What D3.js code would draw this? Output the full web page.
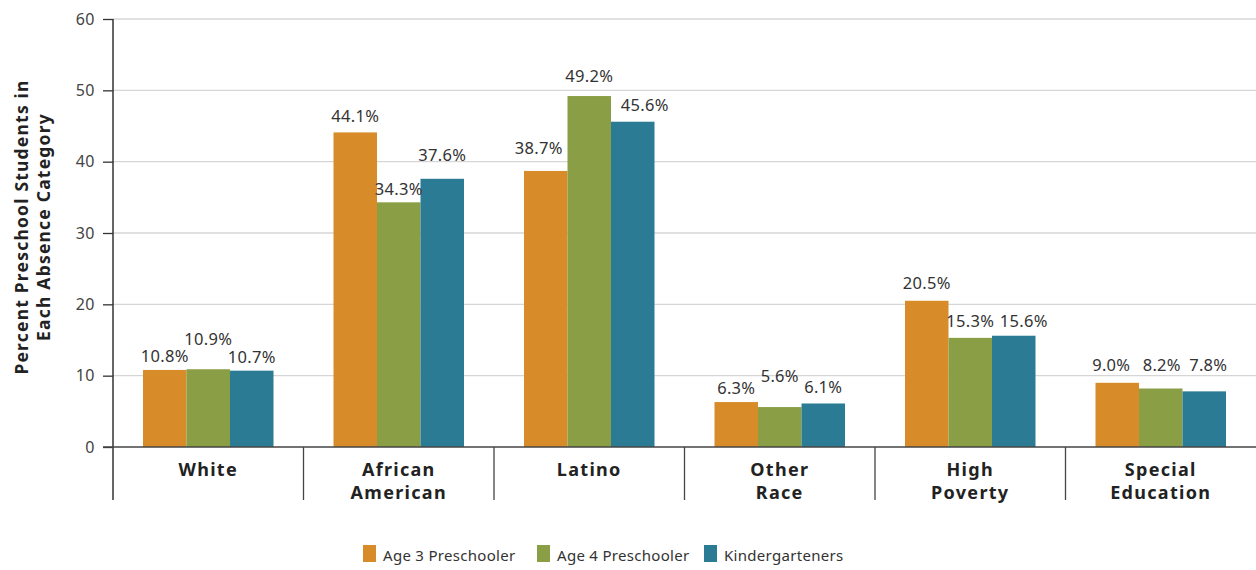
<!DOCTYPE html>
<html>
<head>
<meta charset="utf-8">
<script src="https://cdn.jsdelivr.net/npm/d3@7"></script>
<style>
  body { margin: 0; background: #fff; }
  text { font-family: "Noto Sans", sans-serif; }
</style>
</head>
<body>
<script>
// data
var categories = [["White"], ["African", "American"], ["Latino"], ["Other", "Race"], ["High", "Poverty"], ["Special", "Education"]];
var seriesNames = ["Age 3 Preschooler", "Age 4 Preschooler", "Kindergarteners"];
var age3 = [10.8, 44.1, 38.7, 6.3, 20.5, 9.0];
var age4 = [10.9, 34.3, 49.2, 5.6, 15.3, 8.2];
var kinder = [10.7, 37.6, 45.6, 6.1, 15.6, 7.8];
var yTicks = [0, 10, 20, 30, 40, 50, 60];

// layout: label nudges so the value labels don't collide (px, relative to bar top / bar centre)
var labelDy = [[-8, -24, -8], [-10, -7, -18], [-17, -14, -11], [-8, -25, -10], [-12, -11, -9], [-12, -18, -20]];
var labelDx = [[0, 0, 0], [0, 0, 0], [-7, 0, 12], [0, 0, 0], [0, 0, 10], [-6, 1, 4]];

var colors = ["#D88B29", "#8A9E45", "#2C7B94"];
var width = 1256, height = 570;

var svg = d3.select("body").append("svg")
    .attr("width", width)
    .attr("height", height);

var catKeys = categories.map(function(c) { return c.join(" "); });
var values = [age3, age4, kinder];

var x0 = d3.scaleBand().domain(catKeys).range([113, 1256]).padding(0);
var x1 = d3.scaleBand().domain(d3.range(3)).range([30, x0.bandwidth() - 30]).padding(0);
var y = d3.scaleLinear().domain([0, 60]).range([447, 19]);

// gridlines
svg.append("g").selectAll("line")
    .data(yTicks.filter(function(d) { return d > 0; }))
    .enter().append("line")
    .attr("x1", 113).attr("x2", 1256)
    .attr("y1", function(d) { return y(d); })
    .attr("y2", function(d) { return y(d); })
    .attr("stroke", "#d6d6d6")
    .attr("stroke-width", 1.3);

// y axis
var yAxis = svg.append("g")
    .attr("transform", "translate(113,0)")
    .call(d3.axisLeft(y).tickValues(yTicks).tickSize(10).tickPadding(8));
yAxis.select(".domain").remove();
yAxis.selectAll(".tick line").attr("stroke", "#333").attr("stroke-width", 1.3);
yAxis.selectAll(".tick text")
    .attr("fill", "#444")
    .style("font-size", "16px")
    .style("letter-spacing", "0.5px")
    .style("font-family", "'Noto Sans', sans-serif");

svg.append("line")
    .attr("x1", 113).attr("x2", 113)
    .attr("y1", y(60)).attr("y2", 500)
    .attr("stroke", "#333").attr("stroke-width", 1.5);

// bars
var groups = svg.append("g").selectAll("g")
    .data(catKeys)
    .enter().append("g")
    .attr("transform", function(d) { return "translate(" + x0(d) + ",0)"; });

groups.selectAll("rect")
    .data(function(d, i) { return values.map(function(v, s) { return {s: s, v: v[i]}; }); })
    .enter().append("rect")
    .attr("x", function(d) { return x1(d.s); })
    .attr("width", x1.bandwidth())
    .attr("y", function(d) { return y(d.v); })
    .attr("height", function(d) { return y(0) - y(d.v); })
    .attr("fill", function(d) { return colors[d.s]; });

groups.selectAll("text.val")
    .data(function(d, i) { return values.map(function(v, s) { return {s: s, v: v[i], c: i}; }); })
    .enter().append("text")
    .attr("class", "val")
    .attr("x", function(d) { return x1(d.s) + x1.bandwidth() / 2 + labelDx[d.c][d.s]; })
    .attr("y", function(d) { return y(d.v) + labelDy[d.c][d.s]; })
    .attr("text-anchor", "middle")
    .attr("fill", "#333")
    .style("font-size", "16.5px")
    .style("letter-spacing", "0.3px")
    .text(function(d) { return d.v.toFixed(1) + "%"; });

// x axis line and group separators
svg.append("line")
    .attr("x1", 103).attr("x2", 1256)
    .attr("y1", y(0)).attr("y2", y(0))
    .attr("stroke", "#444").attr("stroke-width", 1.5);

svg.append("g").selectAll("line")
    .data(catKeys.slice(1))
    .enter().append("line")
    .attr("x1", function(d) { return x0(d); })
    .attr("x2", function(d) { return x0(d); })
    .attr("y1", y(0)).attr("y2", 500)
    .attr("stroke", "#444").attr("stroke-width", 1.3);

// category labels
var catLabels = svg.append("g").selectAll("text")
    .data(categories)
    .enter().append("text")
    .attr("text-anchor", "middle")
    .attr("fill", "#222")
    .style("font-size", "18px")
    .style("font-weight", "bold")
    .style("letter-spacing", "1.3px")
    .attr("transform", function(d, i) { return "translate(" + (x0(catKeys[i]) + x0.bandwidth() / 2) + ",476)"; });

catLabels.selectAll("tspan")
    .data(function(d) { return d; })
    .enter().append("tspan")
    .attr("x", 0)
    .attr("y", function(d, i) { return i * 23; })
    .text(function(d) { return d; });

// y axis title
svg.append("text")
    .attr("transform", "translate(28,227) rotate(-90)")
    .attr("text-anchor", "middle")
    .attr("fill", "#222")
    .style("font-size", "17.5px")
    .style("font-weight", "bold")
    .style("letter-spacing", "1.2px")
    .selectAll("tspan")
    .data(["Percent Preschool Students in", "Each Absence Category"])
    .enter().append("tspan")
    .attr("x", 0)
    .attr("y", function(d, i) { return i * 22; })
    .text(function(d) { return d; });

// legend
var legendX = [363, 537, 704];
var legend = svg.append("g").selectAll("g")
    .data(seriesNames)
    .enter().append("g")
    .attr("transform", function(d, i) { return "translate(" + legendX[i] + ",545)"; });

legend.append("rect")
    .attr("width", 13).attr("height", 17)
    .attr("fill", function(d, i) { return colors[i]; });

legend.append("text")
    .attr("x", 20).attr("y", 16)
    .attr("fill", "#333")
    .style("font-size", "15px")
    .style("letter-spacing", "0.3px")
    .text(function(d) { return d; });
</script>
</body>
</html>
